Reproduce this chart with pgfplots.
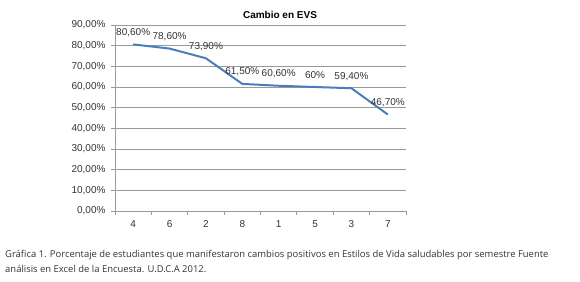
\documentclass[border=0pt]{standalone}
\usepackage{fontspec}
\setmainfont{Liberation Sans}
\newfontfamily\capfont{Open Sans}
\usepackage{pgfplots}
\pgfplotsset{compat=1.18}
\definecolor{xlblue}{HTML}{4A7EBB}
\definecolor{gridgray}{HTML}{9A9A9A}
\definecolor{txt}{HTML}{333333}
\begin{document}
\begin{tikzpicture}
\path[use as bounding box] (0,0) rectangle (580bp,282bp);
\begin{axis}[
  at={(115bp,71bp)}, anchor=south west,
  scale only axis, width=291bp, height=186bp,
  xmin=-0.5, xmax=7.5, ymin=0, ymax=90,
  axis x line*=bottom, axis y line*=left,
  axis line style={gridgray, line width=0.9bp},
  xtick={0,...,7}, xticklabels={4,6,2,8,1,5,3,7},
  minor xtick={-0.5,0.5,...,7.5},
  ytick={0,10,...,90},
  yticklabels={0{,}00\%,10{,}00\%,20{,}00\%,30{,}00\%,40{,}00\%,50{,}00\%,60{,}00\%,70{,}00\%,80{,}00\%,90{,}00\%},
  ymajorgrids, grid style={gridgray, line width=0.9bp},
  tick align=outside,
  major tick length=4bp, minor tick length=4bp,
  x tick style={draw=none},
  minor x tick style={draw=gridgray, line width=0.9bp},
  y tick style={draw=gridgray, line width=0.9bp},
  /pgf/number format/assume math mode=true,
  tick label style={font=\fontsize{10bp}{12bp}\selectfont, text=txt},
  xticklabel style={yshift=-2bp},
  yticklabel style={xshift=-2bp},
  clip=false,
]
\addplot[xlblue, line width=2bp, mark=none,
  point meta=explicit symbolic,
  nodes near coords,
  every node near coord/.append style={anchor=center, yshift=12bp, font=\fontsize{10bp}{12bp}\selectfont, text=txt}]
  coordinates {
  (0,80.6) [80,60\%]
  (1,78.6) [78,60\%]
  (2,73.9) [73,90\%]
  (3,61.5) [61,50\%]
  (4,60.6) [60,60\%]
  (5,60.0) [60\%]
  (6,59.4) [59,40\%]
  (7,46.7) [46,70\%]
  };
\end{axis}
\node[anchor=center, text=black, font=\bfseries\fontsize{10bp}{12bp}\selectfont] at (280bp,267bp) {Cambio en EVS};
\node[anchor=base west, inner sep=0, text=txt, font=\capfont\fontsize{9.45bp}{11bp}\selectfont] at (5bp,25bp) {Gráfica 1. Porcentaje de estudiantes que manifestaron cambios positivos en Estilos de Vida saludables por semestre Fuente};
\node[anchor=base west, inner sep=0, text=txt, font=\capfont\fontsize{9.45bp}{11bp}\selectfont] at (5bp,9.5bp) {análisis en Excel de la Encuesta. U.D.C.A 2012.};
\end{tikzpicture}
\end{document}
